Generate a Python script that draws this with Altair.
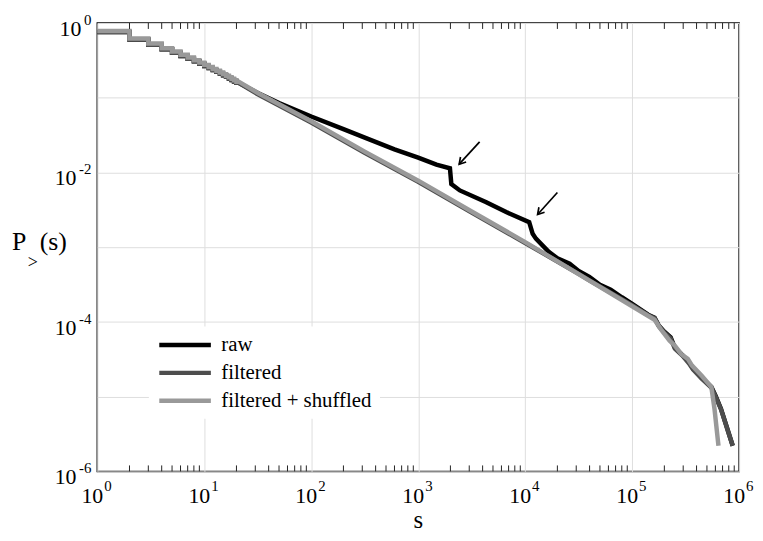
import altair as alt
import pandas as pd

# ---------------- data ----------------
series_names = ["raw", "filtered", "filtered + shuffled"]
series_colors = ["#000000", "#4d4d4d", "#999999"]

# integer-s staircase at the start (P_>(s) for s = 1..20)
step_s = list(range(1, 21))
shuf_step_p = [0.78, 0.62, 0.53, 0.46, 0.415, 0.375, 0.345, 0.318, 0.295, 0.275,
               0.258, 0.243, 0.230, 0.218, 0.207, 0.197, 0.188, 0.180, 0.171, 0.164]
filt_step_p = [0.76, 0.60, 0.51, 0.445, 0.40, 0.362, 0.333, 0.307, 0.285, 0.265,
               0.249, 0.234, 0.222, 0.210, 0.200, 0.190, 0.181, 0.173, 0.165, 0.158]

shuf_s = [32, 100, 316, 1000, 3160, 10000, 31600, 100000, 162000, 186000,
          224000, 251000, 288000, 331000, 363000, 447000, 550000, 589000, 641000]
shuf_p = [0.115, 0.0484, 0.019, 0.00776, 0.0030, 0.00117, 4.37e-4, 1.62e-4,
          1.07e-4, 7.9e-5, 5.6e-5, 4.8e-5, 3.7e-5, 3.2e-5, 2.6e-5, 1.9e-5, 1.35e-5,
          6.8e-6, 2.2e-6]

filt_s = [32, 100, 316, 1000, 3160, 10000, 16600, 31600, 39800, 100000, 141000,
          162000, 178000, 200000, 229000, 251000, 295000, 339000, 372000, 447000,
          550000, 603000, 676000, 871000]
filt_p = [0.110, 0.0465, 0.0183, 0.0075, 0.0029, 0.00114, 7.5e-4, 4.4e-4,
          3.6e-4, 1.68e-4, 1.23e-4, 1.12e-4, 8.7e-5, 7.2e-5, 6.0e-5, 4.4e-5, 3.55e-5,
          2.8e-5, 2.3e-5, 1.74e-5, 1.32e-5, 1.0e-5, 6.8e-6, 2.2e-6]

raw_s = [32, 50, 100, 200, 339, 600, 1000, 1480, 1980, 2040, 2450, 4330, 6640, 10900,
         11750, 12600, 16600, 20000, 26000, 31600, 39800, 50000, 63000, 80000, 100000,
         141000, 162000, 178000, 200000, 229000, 251000, 295000, 339000, 372000,
         447000, 550000, 603000, 676000, 871000]
raw_p = [0.115, 0.085, 0.056, 0.038, 0.0282, 0.0204, 0.0158, 0.0127, 0.01135, 0.0070,
         0.00575, 0.0040, 0.00295, 0.00216, 0.00151, 0.0013, 8.7e-4, 7.1e-4, 6.0e-4,
         4.8e-4, 4.0e-4, 3.15e-4, 2.7e-4, 2.14e-4, 1.74e-4, 1.25e-4, 1.14e-4, 8.9e-5,
         7.4e-5, 6.2e-5, 4.5e-5, 3.6e-5, 2.9e-5, 2.35e-5, 1.78e-5, 1.35e-5, 1.02e-5,
         6.9e-6, 2.2e-6]

# arrows (tail -> head)
arrow_tail_s = [3750, 20000]
arrow_tail_p = [0.0257, 0.0054]
arrow_head_s = [2415, 13060]
arrow_head_p = [0.0129, 0.00274]

x_label_exps = [0, 1, 2, 3, 4, 5, 6]
y_label_exps = [0, -2, -4, -6]
grid_x = [10.0 ** k for k in range(0, 7)]
grid_y = [10.0 ** (-k) for k in range(0, 7)]
minor_x = [m * 10.0 ** k for k in range(0, 6) for m in range(2, 10)]

# ---------------- build tables ----------------
def build(name, st_p, sm_s, sm_p):
    rows = []
    for s_i, p_i in zip(step_s, st_p):
        rows.append((s_i, p_i))
        rows.append((s_i + 1, p_i))
    rows += list(zip(sm_s, sm_p))
    return pd.DataFrame({"s": [r[0] for r in rows], "p": [r[1] for r in rows],
                         "i": list(range(len(rows))), "series": name})

df_raw = build("raw", filt_step_p, raw_s, raw_p)
df_filt = build("filtered", filt_step_p, filt_s, filt_p)
df_shuf = build("filtered + shuffled", shuf_step_p, shuf_s, shuf_p)

W, H = 647, 452
F = "Liberation Serif"

xs = alt.Scale(type="log", domain=[1, 1e6], nice=False)
ys = alt.Scale(type="log", domain=[1e-6, 1], nice=False)
xaxis = alt.Axis(values=grid_x, grid=True, gridColor="#dedede", gridWidth=1,
                 labels=False, ticks=False, domain=False, title=None)
yaxis = alt.Axis(values=grid_y, grid=True, gridColor="#dedede", gridWidth=1,
                 labels=False, ticks=False, domain=False, title=None)
cs = alt.Scale(domain=series_names, range=series_colors)
leg = alt.Legend(title=None, orient="none", legendX=52, legendY=306, padding=8,
                 fillColor="white", symbolType="M-1.4545,0L8,0", symbolSize=121,
                 symbolStrokeWidth=4.5, labelFont=F, labelFontSize=21, labelOffset=44,
                 rowPadding=6.2, labelLimit=400, labelColor="black")


def X(f):
    return alt.X(f, type="quantitative", scale=xs, axis=xaxis)


def Y(f):
    return alt.Y(f, type="quantitative", scale=ys, axis=yaxis)


def line(df):
    return alt.Chart(df).mark_line(strokeWidth=4.5).encode(
        x=X("s"), y=Y("p"), order=alt.Order("i:Q"),
        color=alt.Color("series:N", scale=cs, legend=leg))


lines = [line(df_raw), line(df_filt), line(df_shuf)]

# minor ticks (inside, bottom and top)
tick_df = pd.DataFrame({"v": minor_x})
ticks_b = alt.Chart(tick_df).mark_rule(color="#222222", strokeWidth=1).encode(
    x=X("v"), y=alt.value(H - 6), y2=alt.value(H))
ticks_t = alt.Chart(tick_df).mark_rule(color="#222222", strokeWidth=1).encode(
    x=X("v"), y=alt.value(0), y2=alt.value(6))

# arrows
arr_df = pd.DataFrame({"ts": arrow_tail_s, "tp": arrow_tail_p,
                       "hs": arrow_head_s, "hp": arrow_head_p})
shafts = alt.Chart(arr_df).mark_rule(color="black", strokeWidth=1.7).encode(
    x=X("ts"), y=Y("tp"), x2="hs", y2="hp")
heads = alt.Chart(arr_df).mark_point(shape="M-1,-0.6L0,0L-1,0.6", filled=False,
                                     stroke="black", strokeWidth=1.7, size=160,
                                     opacity=1).encode(
    x=X("hs"), y=Y("hp"), angle=alt.value(131.5))

# tick labels
xl = pd.DataFrame({"v": [10.0 ** e for e in x_label_exps], "e": [str(e) for e in x_label_exps]})
xl_base = alt.Chart(xl).mark_text(text="10", align="right", baseline="alphabetic", dx=6,
                                  font=F, fontSize=22, color="black").encode(
    x=X("v"), y=alt.value(H + 32))
xl_exp = alt.Chart(xl).mark_text(align="left", baseline="alphabetic", dx=7,
                                 font=F, fontSize=15, color="black").encode(
    x=X("v"), y=alt.value(H + 20), text="e:N")

yl = pd.DataFrame({"v": [10.0 ** e for e in y_label_exps], "e": [str(e) for e in y_label_exps]})
yl_base0 = alt.Chart(yl[yl.e == "0"]).mark_text(text="10", align="right", baseline="alphabetic",
                                               dy=13, font=F, fontSize=22, color="black").encode(
    y=Y("v"), x=alt.value(-16))
yl_baseN = alt.Chart(yl[yl.e != "0"]).mark_text(text="10", align="right", baseline="alphabetic",
                                               dy=13, font=F, fontSize=22, color="black").encode(
    y=Y("v"), x=alt.value(-21))
yl_exp = alt.Chart(yl).mark_text(align="right", baseline="alphabetic", dy=2,
                                 font=F, fontSize=15, color="black").encode(
    y=Y("v"), x=alt.value(-6), text="e:N")

# axis titles
one = pd.DataFrame({"t": ["s"]})
x_title = alt.Chart(one).mark_text(text="s", align="center", baseline="alphabetic",
                                   font=F, fontSize=25, color="black").encode(
    x=alt.value(W / 2), y=alt.value(H + 57))
y_t1 = alt.Chart(one).mark_text(text="P", align="left", baseline="alphabetic",
                                font=F, fontSize=26, color="black").encode(
    x=alt.value(-86), y=alt.value(229))
y_t2 = alt.Chart(one).mark_text(text=">", align="left", baseline="alphabetic",
                                font=F, fontSize=18, color="black").encode(
    x=alt.value(-70), y=alt.value(247))
y_t3 = alt.Chart(one).mark_text(text="(s)", align="left", baseline="alphabetic",
                                font=F, fontSize=26, color="black").encode(
    x=alt.value(-58), y=alt.value(229))

chart = alt.layer(
    *lines, ticks_b, ticks_t, shafts, heads,
    xl_base, xl_exp, yl_base0, yl_baseN, yl_exp, x_title, y_t1, y_t2, y_t3
).properties(
    width=W, height=H,
    autosize=alt.AutoSizeParams(type="none"),
    padding={"left": 90, "top": 13, "right": 16, "bottom": 60},
).configure_view(stroke="black", strokeWidth=1.5)

chart.save("out.html", embed_options={"renderer": "svg", "actions": False})
